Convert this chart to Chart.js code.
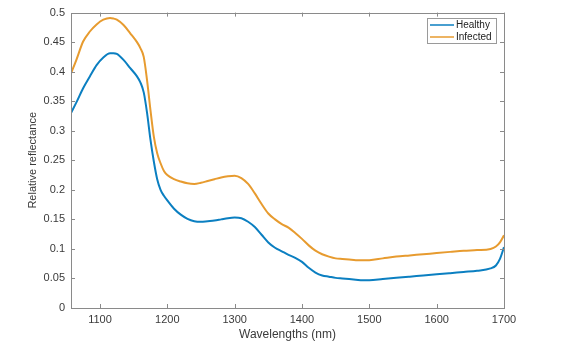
<!DOCTYPE html>
<html>
<head>
<meta charset="utf-8">
<script src="https://cdn.jsdelivr.net/npm/chart.js@4.4.0/dist/chart.umd.min.js"></script>
<style>
	html, body { margin: 0; padding: 0; background: #fff; }
	#wrap { width: 567px; height: 353px; position: relative; }
</style>
</head>
<body>
<div id="wrap"><canvas id="myChart"></canvas></div>
<script>
// DATA
const wavelengths = [1057, 1065, 1075, 1085, 1095, 1105, 1115, 1120, 1125, 1135, 1145, 1155, 1160, 1165, 1170,
	1175, 1180, 1185, 1190, 1195, 1200, 1210, 1220, 1230, 1240, 1250, 1260, 1270, 1280, 1290, 1300, 1310,
	1320, 1330, 1340, 1350, 1360, 1370, 1380, 1390, 1400, 1410, 1420, 1430, 1440, 1450, 1460, 1470, 1480,
	1490, 1500, 1520, 1540, 1560, 1580, 1600, 1620, 1640, 1660, 1680, 1688, 1694, 1700];

const healthy = [0.330, 0.348, 0.372, 0.392, 0.411, 0.424, 0.431, 0.431, 0.430, 0.420, 0.406, 0.392, 0.382, 0.365, 0.330,
	0.285, 0.248, 0.218, 0.200, 0.190, 0.182, 0.168, 0.158, 0.151, 0.147, 0.146, 0.147, 0.148, 0.150, 0.152, 0.153, 0.152,
	0.146, 0.137, 0.124, 0.111, 0.102, 0.096, 0.090, 0.085, 0.078, 0.068, 0.060, 0.055, 0.053, 0.051, 0.050, 0.049, 0.048,
	0.047, 0.047, 0.049, 0.051, 0.053, 0.055, 0.057, 0.059, 0.061, 0.063, 0.067, 0.072, 0.083, 0.103];

const infected = [0.397, 0.420, 0.451, 0.468, 0.480, 0.488, 0.491, 0.490, 0.488, 0.479, 0.465, 0.450, 0.440, 0.425, 0.385,
	0.335, 0.290, 0.262, 0.245, 0.232, 0.225, 0.218, 0.214, 0.211, 0.210, 0.212, 0.215, 0.218, 0.221, 0.223, 0.224, 0.220,
	0.210, 0.194, 0.176, 0.160, 0.150, 0.142, 0.136, 0.127, 0.117, 0.106, 0.097, 0.091, 0.087, 0.084, 0.083, 0.082, 0.081,
	0.081, 0.081, 0.084, 0.087, 0.089, 0.091, 0.093, 0.095, 0.097, 0.098, 0.100, 0.104, 0.111, 0.123];

const seriesNames = ['Healthy', 'Infected'];
const xTicks = [1100, 1200, 1300, 1400, 1500, 1600, 1700];
const yTicks = [0, 0.05, 0.1, 0.15, 0.2, 0.25, 0.3, 0.35, 0.4, 0.45, 0.5];
const yTickLabels = ['0', '0.05', '0.1', '0.15', '0.2', '0.25', '0.3', '0.35', '0.4', '0.45', '0.5'];

const BLUE = '#0b7fc1';
const ORANGE = '#e79b2f';
const AXIS = '#8a8a8a';
const TEXT = '#3a3a3a';
const FONT = '"Liberation Sans", Arial, sans-serif';

// MATLAB-like box with inward ticks on all four sides
const boxPlugin = {
	id: 'boxTicks',
	afterDraw(chart) {
		const ctx = chart.ctx;
		const a = chart.chartArea;
		const xs = chart.scales.x;
		const ys = chart.scales.y;
		ctx.save();
		ctx.strokeStyle = AXIS;
		ctx.lineWidth = 1;
		ctx.strokeRect(Math.round(a.left) + 0.5, Math.round(a.top) + 0.5, Math.round(a.right - a.left), Math.round(a.bottom - a.top));
		ctx.beginPath();
		xTicks.forEach(v => {
			const px = Math.round(xs.getPixelForValue(v)) + 0.5;
			ctx.moveTo(px, a.bottom); ctx.lineTo(px, a.bottom - 4);
			ctx.moveTo(px, a.top); ctx.lineTo(px, a.top + 4);
		});
		yTicks.forEach(v => {
			const py = Math.round(ys.getPixelForValue(v)) + 0.5;
			ctx.moveTo(a.left, py); ctx.lineTo(a.left + 4, py);
			ctx.moveTo(a.right, py); ctx.lineTo(a.right - 4, py);
		});
		ctx.stroke();

		// legend
		const lx = 427, ly = 18, lw = 69, lh = 25;
		ctx.fillStyle = '#fff';
		ctx.fillRect(lx, ly, lw, lh);
		ctx.strokeStyle = '#9a9a9a';
		ctx.strokeRect(lx + 0.5, ly + 0.5, lw, lh);
		ctx.font = '10px ' + FONT;
		ctx.textBaseline = 'middle';
		ctx.textAlign = 'left';
		chart.data.datasets.forEach((ds, i) => {
			const yy = ly + 7 + i * 12;
			ctx.strokeStyle = ds.borderColor;
			ctx.lineWidth = 1.5;
			ctx.beginPath();
			ctx.moveTo(lx + 3, yy); ctx.lineTo(lx + 27, yy);
			ctx.stroke();
			ctx.fillStyle = '#222';
			ctx.fillText(ds.label, lx + 29, yy + 0.5);
		});
		ctx.restore();
	}
};

const ctx = document.getElementById('myChart').getContext('2d');
const myChart = new Chart(ctx, {
	type: 'line',
	data: {
		labels: wavelengths,
		datasets: [{
			label: seriesNames[0],
			data: wavelengths.map((w, i) => ({x: w, y: healthy[i]})),
			borderColor: BLUE,
			borderWidth: 2,
			pointRadius: 0,
			cubicInterpolationMode: 'monotone',
			fill: false
		}, {
			label: seriesNames[1],
			data: wavelengths.map((w, i) => ({x: w, y: infected[i]})),
			borderColor: ORANGE,
			borderWidth: 2,
			pointRadius: 0,
			cubicInterpolationMode: 'monotone',
			fill: false
		}]
	},
	options: {
		responsive: true,
		maintainAspectRatio: false,
		animation: false,
		layout: { padding: { top: 11, right: 63, bottom: 0, left: 26 } },
		plugins: {
			legend: { display: false },
			tooltip: { enabled: false }
		},
		scales: {
			x: {
				type: 'linear',
				min: 1057,
				max: 1700,
				grid: { display: false, drawTicks: false },
				border: { display: false },
				afterBuildTicks: s => { s.ticks = xTicks.map(v => ({value: v})); },
				afterFit: s => { s.height = 45; },
				ticks: {
					color: TEXT,
					padding: 5,
					maxRotation: 0,
					font: { family: FONT, size: 11 },
					callback: v => String(v)
				},
				title: {
					display: true,
					text: 'Wavelengths (nm)',
					color: TEXT,
					padding: { top: 0, bottom: 11 },
					font: { family: FONT, size: 12 }
				}
			},
			y: {
				min: 0,
				max: 0.5,
				grid: { display: false, drawTicks: false },
				border: { display: false },
				afterBuildTicks: s => { s.ticks = yTicks.map(v => ({value: v})); },
				afterFit: s => { s.width = 45; },
				ticks: {
					color: TEXT,
					padding: 6,
					font: { family: FONT, size: 11 },
					callback: (v, i) => yTickLabels[i]
				},
				title: {
					display: true,
					text: 'Relative reflectance',
					color: TEXT,
					padding: { top: 0, bottom: 0 },
					font: { family: FONT, size: 11 }
				}
			}
		}
	},
	plugins: [boxPlugin]
});
</script>
</body>
</html>
